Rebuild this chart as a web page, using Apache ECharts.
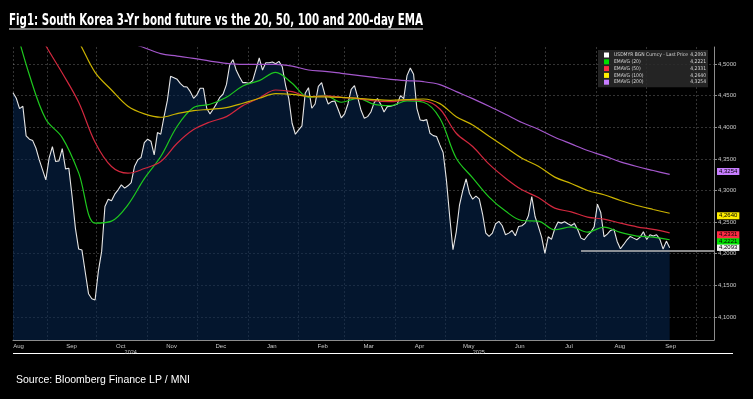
<!DOCTYPE html>
<html>
<head>
<meta charset="utf-8">
<title>Fig1</title>
<script src="https://cdn.jsdelivr.net/npm/echarts@6/dist/echarts.min.js"></script>
<style>
    html, body { margin: 0; padding: 0; background: #000; }
    #chart { width: 753px; height: 399px; }
</style>
</head>
<body>
<div id="chart"></div>
<script>
// ------------------------------
// Data
// ------------------------------

// price sampled every 2 days, EMAs every 10 days, both from 11 Aug 2024
var startDate = new Date(2024, 7, 11);
var endDate = new Date(2025, 9, 12);
var priceStepDays = 2;
var emaStepDays = 10;

var lastPrice = [
    4.4547, 4.4458, 4.4295, 4.4332, 4.3863, 4.3811, 4.3789, 4.3668, 4.3484, 4.3326,
    4.3168, 4.3511, 4.3695, 4.3458, 4.3468, 4.3663, 4.3342, 4.3353, 4.2905, 4.2405,
    4.2074, 4.2058, 4.1711, 4.1368, 4.1289, 4.1268, 4.1726, 4.2037, 4.2747, 4.2863,
    4.2837, 4.2942, 4.3011, 4.3089, 4.3037, 4.3074, 4.3126, 4.3379, 4.3484, 4.3521,
    4.3758, 4.3811, 4.3779, 4.3563, 4.3916, 4.3889, 4.4168, 4.4421, 4.4805, 4.4784,
    4.4758, 4.4689, 4.4642, 4.4637, 4.4563, 4.4458, 4.4511, 4.4616, 4.4616, 4.4300,
    4.4211, 4.4289, 4.4374, 4.4474, 4.4526, 4.4674, 4.4984, 4.5068, 4.4900, 4.4795,
    4.4705, 4.4705, 4.4695, 4.4737, 4.4916, 4.5095, 4.4905, 4.5021, 4.5021, 4.5032,
    4.5005, 4.5042, 4.4958, 4.4668, 4.4453, 4.4063, 4.3889, 4.3958, 4.4021, 4.4537,
    4.4626, 4.4300, 4.4368, 4.4647, 4.4705, 4.4511, 4.4368, 4.4405, 4.4416, 4.4284,
    4.4147, 4.4211, 4.4368, 4.4600, 4.4658, 4.4468, 4.4268, 4.4142, 4.4168, 4.4242,
    4.4389, 4.4453, 4.4363, 4.4242, 4.4326, 4.4332, 4.4347, 4.4363, 4.4500, 4.4453,
    4.4816, 4.4937, 4.4837, 4.4300, 4.4116, 4.4105, 4.4121, 4.3905, 4.3868, 4.3853,
    4.3721, 4.3600, 4.3168, 4.2589, 4.2063, 4.2347, 4.2774, 4.3000, 4.3184, 4.2958,
    4.2863, 4.2911, 4.2868, 4.2632, 4.2326, 4.2274, 4.2326, 4.2474, 4.2511, 4.2442,
    4.2300, 4.2326, 4.2368, 4.2284, 4.2432, 4.2442, 4.2484, 4.2605, 4.2905, 4.2589,
    4.2432, 4.2263, 4.2005, 4.2268, 4.2226, 4.2395, 4.2500, 4.2484, 4.2505, 4.2474,
    4.2447, 4.2479, 4.2379, 4.2247, 4.2221, 4.2289, 4.2342, 4.2426, 4.2784, 4.2653,
    4.2268, 4.2311, 4.2368, 4.2389, 4.2195, 4.2079, 4.2147, 4.2221, 4.2274, 4.2247,
    4.2221, 4.2263, 4.2347, 4.2226, 4.2300, 4.2279, 4.2300, 4.2232, 4.2074, 4.2200,
    4.2093
];

var ema20 = [
    4.5730, 4.4826, 4.4126, 4.3837, 4.3279, 4.2484, 4.2516, 4.2774, 4.3189, 4.3537,
    4.4016, 4.4311, 4.4363, 4.4474, 4.4653, 4.4737, 4.4868, 4.4695, 4.4474, 4.4505,
    4.4395, 4.4458, 4.4363, 4.4342, 4.4416, 4.4395, 4.4142, 4.3511, 4.3200, 4.2895,
    4.2674, 4.2526, 4.2516, 4.2379, 4.2426, 4.2342, 4.2421, 4.2337, 4.2279, 4.2263,
    4.2221
];
var ema50 = [
    4.6211, 4.5774, 4.5289, 4.4858, 4.4395, 4.3763, 4.3379, 4.3274, 4.3347, 4.3458,
    4.3747, 4.3963, 4.4084, 4.4168, 4.4342, 4.4463, 4.4589, 4.4563, 4.4484, 4.4495,
    4.4474, 4.4453, 4.4416, 4.4405, 4.4432, 4.4421, 4.4289, 4.3905, 4.3695, 4.3416,
    4.3195, 4.3011, 4.2889, 4.2721, 4.2663, 4.2579, 4.2547, 4.2484, 4.2426, 4.2384,
    4.2331
];
var ema100 = [
    4.6960, 4.6510, 4.6090, 4.5747, 4.5353, 4.4868, 4.4589, 4.4332, 4.4211, 4.4158,
    4.4216, 4.4263, 4.4284, 4.4311, 4.4379, 4.4458, 4.4532, 4.4521, 4.4489, 4.4479,
    4.4474, 4.4458, 4.4437, 4.4426, 4.4437, 4.4447, 4.4374, 4.4168, 4.4037, 4.3858,
    4.3684, 4.3511, 4.3384, 4.3211, 4.3111, 4.3000, 4.2932, 4.2842, 4.2763, 4.2700,
    4.2640
];
var ema200 = [
    4.5905, 4.5826, 4.5737, 4.5653, 4.5568, 4.5484, 4.5411, 4.5347, 4.5258, 4.5163,
    4.5126, 4.5089, 4.5047, 4.5011, 4.4995, 4.4995, 4.4995, 4.4968, 4.4905, 4.4884,
    4.4853, 4.4821, 4.4789, 4.4758, 4.4737, 4.4721, 4.4674, 4.4563, 4.4453, 4.4332,
    4.4205, 4.4074, 4.3968, 4.3842, 4.3737, 4.3632, 4.3547, 4.3453, 4.3379, 4.3316,
    4.3254
];

var yTicks = [4.10, 4.15, 4.20, 4.25, 4.30, 4.35, 4.40, 4.45, 4.50];
var yMin = 4.0636;
var yMax = 4.5269;

// flat line under the recent lows
var supportLevel = 4.2053;
var supportFrom = new Date(2025, 6, 23);

var monthNames = ['Jan', 'Feb', 'Mar', 'Apr', 'May', 'Jun', 'Jul', 'Aug', 'Sep', 'Oct', 'Nov', 'Dec'];

var names = {
    px: 'USDMYR BGN Curncy - Last Price',
    e20: 'EMAVG (20)',
    e50: 'EMAVG (50)',
    e100: 'EMAVG (100)',
    e200: 'EMAVG (200)'
};

var titleText = 'Fig1: South Korea 3-Yr bond future vs the 20, 50, 100 and 200-day EMA';
var sourceText = 'Source: Bloomberg Finance LP / MNI';

// ------------------------------
// helpers
// ------------------------------
function fmt(v) {
    return v.toFixed(4).replace('.', ',');
}

function withDates(values, stepDays) {
    return values.map(function (v, i) {
        var d = new Date(startDate.getTime());
        d.setDate(d.getDate() + i * stepDays);
        return [d.getTime(), v];
    });
}

function last(arr) {
    return arr[arr.length - 1];
}

function tag(value, bg, fg) {
    return {
        yAxis: value,
        lineStyle: { color: 'rgba(0,0,0,0)', width: 0 },
        label: {
            show: true,
            position: 'end',
            distance: 3,
            formatter: fmt(value),
            backgroundColor: bg,
            color: fg,
            fontSize: 6,
            lineHeight: 7,
            padding: [0, 2, 0, 2]
        }
    };
}

function emaSeries(name, values, color, tagColor) {
    return {
        name: name,
        type: 'line',
        data: withDates(values, emaStepDays),
        showSymbol: false,
        smooth: 0.35,
        lineStyle: { color: color, width: 1.2 },
        itemStyle: { color: color },
        markLine: {
            symbol: 'none',
            silent: true,
            animation: false,
            data: [tag(last(values), tagColor, '#000')]
        }
    };
}

// squeeze the title into the same width as the condensed original
var titleFont = 'bold 16px "DejaVu Sans Condensed", "DejaVu Sans", sans-serif';
var ctx = document.createElement('canvas').getContext('2d');
ctx.font = titleFont;
var titleScale = 414 / ctx.measureText(titleText).width;

var legendFont = '"Liberation Sans Narrow", "DejaVu Sans Condensed", sans-serif';

var lastValues = {};
lastValues[names.px] = last(lastPrice);
lastValues[names.e20] = last(ema20);
lastValues[names.e50] = last(ema50);
lastValues[names.e100] = last(ema100);
lastValues[names.e200] = last(ema200);

var chart = echarts.init(document.getElementById('chart'));

var option = {
    backgroundColor: '#000',
    animation: false,

    graphic: [{
        type: 'text',
        x: 9,
        y: 13,
        scaleX: titleScale,
        style: {
            text: titleText,
            font: titleFont,
            fill: '#fff',
            textVerticalAlign: 'top'
        }
    }, {
        // underline of the title
        type: 'line',
        shape: { x1: 9, y1: 29, x2: 423, y2: 29 },
        style: { stroke: '#fff', lineWidth: 1.2 }
    }, {
        // rule under the date axis
        type: 'line',
        shape: { x1: 13, y1: 353.5, x2: 733, y2: 353.5 },
        style: { stroke: '#fff', lineWidth: 1.2 }
    }, {
        type: 'text',
        x: 16,
        y: 375,
        style: {
            text: sourceText,
            font: '10.5px "Liberation Sans", Arial, sans-serif',
            fill: '#fff',
            textVerticalAlign: 'top'
        }
    }],

    grid: {
        left: 13,
        right: 39,
        top: 47,
        bottom: 59
    },

    legend: {
        orient: 'vertical',
        right: 45,
        top: 50,
        backgroundColor: 'rgba(42,42,42,0.85)',
        padding: [2, 2, 2, 6],
        itemWidth: 5,
        itemHeight: 5,
        itemGap: 0.8,
        icon: 'rect',
        selectedMode: false,
        textStyle: {
            color: '#d8d8d8',
            fontSize: 5,
            lineHeight: 6,
            fontFamily: legendFont,
            rich: {
                n: { width: 80, fontSize: 5, lineHeight: 6, color: '#d8d8d8', fontFamily: legendFont },
                v: { width: 12, align: 'right', fontSize: 5, lineHeight: 6, color: '#d8d8d8', fontFamily: legendFont }
            }
        },
        formatter: function (name) {
            return '{n|' + name + '}{v|' + fmt(lastValues[name]) + '}';
        },
        data: [
            { name: names.px, itemStyle: { color: '#ffffff' } },
            { name: names.e20, itemStyle: { color: '#00e000' } },
            { name: names.e50, itemStyle: { color: '#ff2a44' } },
            { name: names.e100, itemStyle: { color: '#ffee00' } },
            { name: names.e200, itemStyle: { color: '#c77dff' } }
        ]
    },

    // Horizontal axis
    xAxis: {
        type: 'time',
        min: startDate.getTime(),
        max: endDate.getTime(),
        minInterval: 28 * 86400000,
        maxInterval: 31 * 86400000,
        axisLine: { lineStyle: { color: '#8c8c8c', width: 1 } },
        axisTick: { show: false },
        splitLine: {
            show: true,
            lineStyle: { color: 'rgba(255,255,255,0.2)', type: [2, 2], width: 1 }
        },
        axisLabel: {
            color: '#c8c8c8',
            fontSize: 6,
            margin: 3,
            showMinLabel: true,
            showMaxLabel: false,
            hideOverlap: false,
            formatter: function (value) {
                var d = new Date(value);
                if (value === startDate.getTime()) {
                    return '{a|' + monthNames[d.getMonth()] + '}';
                }
                if (d.getDate() !== 1 || value >= new Date(2025, 9, 1).getTime()) {
                    return '';
                }
                var m = monthNames[d.getMonth()];
                if ((d.getFullYear() === 2024 && d.getMonth() === 9) ||
                    (d.getFullYear() === 2025 && d.getMonth() === 4)) {
                    return '{m|' + m + '}\n{y|' + d.getFullYear() + '}';
                }
                return '{m|' + m + '}';
            },
            rich: {
                a: { fontSize: 6, color: '#c8c8c8', padding: [0, 0, 0, 11] },
                m: { fontSize: 6, color: '#c8c8c8', padding: [0, 0, 0, 48] },
                y: { fontSize: 5.5, color: '#c8c8c8', padding: [0, 0, 0, 68] }
            }
        }
    },

    // Vertical axis on the right
    yAxis: {
        type: 'value',
        position: 'right',
        min: yMin,
        max: yMax,
        axisLine: { show: true, lineStyle: { color: '#8c8c8c' } },
        axisTick: {
            show: true,
            inside: false,
            length: 3,
            customValues: yTicks,
            lineStyle: { color: '#8c8c8c' }
        },
        splitLine: {
            show: true,
            lineStyle: { color: 'rgba(255,255,255,0.2)', type: [2, 2], width: 1 }
        },
        axisLabel: {
            color: '#c8c8c8',
            fontSize: 6,
            margin: 4,
            customValues: yTicks,
            formatter: function (v) { return fmt(v); }
        }
    },

    // Add series
    series: [
        {
            name: names.px,
            type: 'line',
            data: withDates(lastPrice, priceStepDays),
            showSymbol: false,
            lineStyle: { color: '#e6e6e6', width: 1.1 },
            itemStyle: { color: '#e6e6e6' },
            areaStyle: { color: 'rgba(8, 40, 82, 0.8)' },
            markLine: {
                symbol: 'none',
                silent: true,
                animation: false,
                data: [
                    tag(last(lastPrice), '#f2f2f2', '#000'),
                    [
                        { coord: [supportFrom.getTime(), supportLevel], lineStyle: { color: '#b8b8b8', width: 1.5, type: 'solid' }, label: { show: false } },
                        { coord: [endDate.getTime(), supportLevel] }
                    ]
                ]
            }
        },
        emaSeries(names.e20, ema20, '#1ec81e', '#00e000'),
        emaSeries(names.e50, ema50, '#d2283e', '#ff2a44'),
        emaSeries(names.e100, ema100, '#cbb300', '#ffee00'),
        emaSeries(names.e200, ema200, '#a457cc', '#c77dff')
    ]
};

chart.setOption(option);
</script>
</body>
</html>
